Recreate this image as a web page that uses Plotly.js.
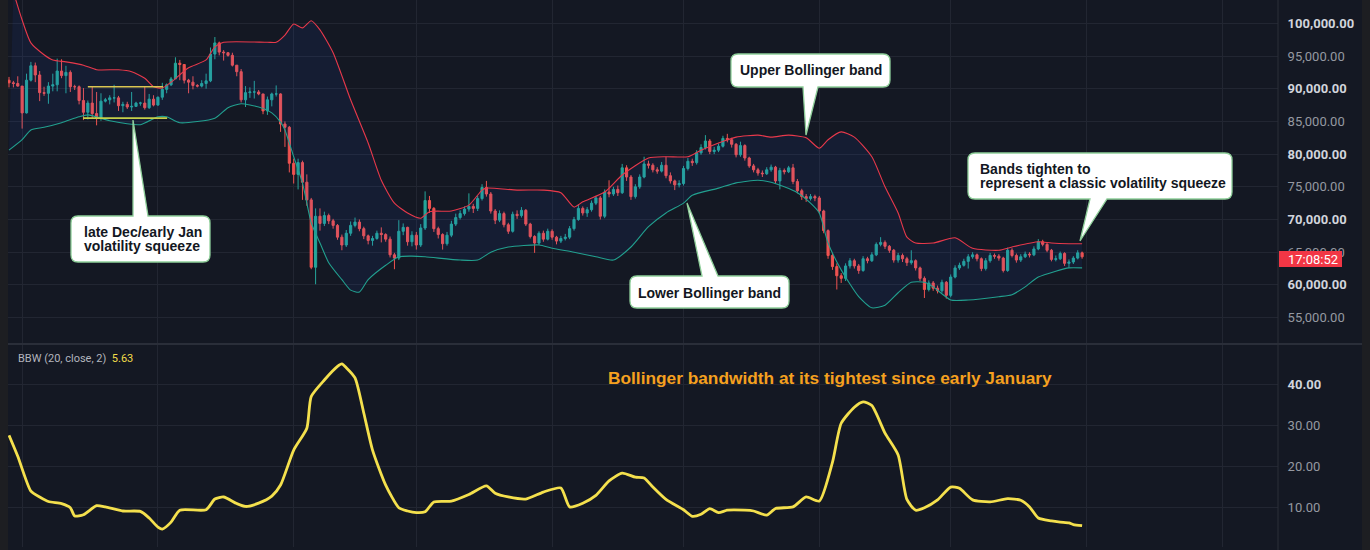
<!DOCTYPE html>
<html>
<head>
<meta charset="utf-8">
<script src="https://cdn.plot.ly/plotly-3.0.1.min.js"></script>
<style>html,body{margin:0;padding:0;background:#141823;overflow:hidden}</style>
</head>
<body>
<div id="chart" style="width:1370px;height:550px"></div>
<script>
// ---------------- DATA ----------------
const startDate = '2025-11-28';   // first daily candle
const firstOpen = 91300;
const closes = [
90900,90800,90400,86300,91300,93500,92100,89400,89300,90400,
90600,92700,92000,92500,90300,90300,88200,86400,87800,86200,
85500,88100,88300,88600,88600,87400,87600,87200,87300,87800,
87800,87100,88400,87500,88700,89900,90600,91500,93900,93700,
91300,91000,90500,90400,90800,91200,95300,97000,95600,95500,
95100,93600,92600,88300,89400,89500,89500,89200,86600,88300,
89200,89200,84600,84100,78600,76900,78700,75700,73000,62700,
70500,
69400,70600,69800,69100,67300,66100,67900,69100,69600,
68600,67500,66800,67100,67900,67700,67000,64600,64100,68200,
68800,66600,67600,66100,68700,72900,71700,68600,67700,66300,
67600,69300,70300,70900,71600,72000,71700,73200,74900,73900,
71300,69900,70900,69200,68200,70800,70600,71400,69300,67400,
66400,67900,67000,68200,67300,66700,67100,67300,68600,70000,
71700,71000,71500,72500,73300,70500,74200,73900,74600,74100,
77900,76500,73500,75000,76500,78500,78300,77600,77400,78300,
76700,75900,75300,75500,77800,78900,78700,80200,81000,82000,
80400,80600,81200,82400,82200,81500,79900,81300,79400,78200,
77600,77100,77000,77600,78000,75900,77500,77300,77900,75800,
74400,73500,73200,73500,73300,71300,68300,64500,62800,61400,
61000,62900,63700,62900,62200,64000,63700,64600,66200,66500,
65900,65300,63800,64500,64000,63400,63700,62600,61000,59300,
60300,59500,59100,60400,58400,61200,62600,63000,63600,64300,
64600,64000,62500,63700,64500,64400,64100,62200,65300,64500,
63800,64300,64700,64600,65500,66600,66200,65300,63900,64000,
64800,63300,63500,64100,64900,64300];
const highs = [
91800,91200,91900,90400,92300,94100,94000,92700,90300,91000,
92300,94600,94500,93500,92800,90600,90500,90100,88200,90300,
89500,89300,88600,89000,90600,88900,88000,88000,89500,88000,
88000,90300,89200,89000,88800,90900,90800,91800,94800,94400,
93600,91500,91900,90700,91300,92300,96300,97900,97200,95900,
95600,95500,93500,93000,90400,90200,91200,89800,89200,88800,
89400,90500,89300,85000,84300,79300,79300,79000,76900,73300,
71700,
71700,71200,70900,70100,69300,67700,68400,69700,70300,
70000,68900,67700,67500,68300,68800,67900,67400,64900,69900,
69400,68900,68200,68100,69300,74300,73600,71900,68900,67900,
68100,69800,70900,71400,72000,74000,72400,73600,75400,75900,
74200,71600,71400,71200,69500,71200,71400,71900,71600,69500,
67600,68200,68300,68600,68500,67500,67500,67800,69000,70400,
72300,72000,71900,72900,73600,73600,74600,76000,75000,75200,
78500,78300,76800,75400,76900,79600,79000,78600,78000,78800,
79600,77200,76100,76000,78200,79400,79300,80600,81500,82900,
82300,81100,81600,82800,83100,82500,81700,81900,81500,79600,
78500,77900,77500,78000,78400,78200,77900,77800,78200,78500,
76200,74700,73900,73900,73800,73600,71500,68500,64900,63300,
61800,63300,64100,64000,63200,64400,64300,65000,66500,67300,
66800,66100,65500,64900,64800,64300,65300,63900,62800,61300,
60700,60600,59900,60800,60600,61600,63000,63400,64000,64700,
65000,64800,64200,64100,64900,64800,64700,64300,65700,65600,
64800,64700,65100,65000,65900,67000,66900,66400,65500,64500,
65100,65000,63900,64400,65300,65100];
const lows = [
90200,90200,90300,83900,86200,91100,91000,88100,88900,87700,
89600,89600,91600,89300,89500,89800,87600,85200,85300,85500,
84400,85100,87900,87600,87900,86600,86400,86900,86600,87200,
87400,86800,86900,87300,87400,88300,89300,90400,91500,91300,
90800,89300,89900,90200,90200,90000,91000,94500,95100,94300,
94900,93400,91900,87900,87200,88600,88500,89000,86100,86000,
87300,88800,83400,81100,77200,75500,74600,73000,72100,62400,
60100,
68300,69000,69300,68600,66900,65300,65800,67500,68800,
68200,67000,66200,66000,66900,66500,66600,64200,62400,63800,
67600,66000,65900,65400,65800,68400,71000,68100,67100,65400,
66000,67300,69000,70000,70600,71200,71000,71300,72900,73500,
70900,69300,69600,68800,67800,68000,70100,70300,69000,67100,
64900,66100,66600,66800,66900,66200,66400,66800,67000,68300,
69800,70600,70400,71200,72200,70000,70200,73400,73600,73600,
73900,75900,73000,73200,74700,76300,77800,77200,77000,77200,
76300,75500,74500,74900,75200,77500,78200,78400,79900,80700,
80000,80000,80300,81000,81800,81000,79500,79600,79000,77900,
77200,76700,76500,76800,77300,75500,74600,76900,77100,75400,
74000,73000,72700,72900,72800,70900,67900,64000,62300,59300,
60300,60600,62500,62500,61700,62000,63300,63500,64400,65900,
65500,64900,63400,63400,63500,62900,63100,62200,60600,58000,
59000,59100,58700,58800,57900,58100,61000,62300,62800,62500,
64000,63600,62100,62200,63400,64000,63700,61900,62000,64200,
63400,63500,64100,64200,64400,65300,65900,65000,63600,63600,
63800,62900,62600,63200,63900,64000];

// Bollinger bands (day offset from startDate, price)
const upperDay = [1,3,5,8,10,13,17,20,25,28,31,33,35,37,41,45,47,49,59,61,63,65,67,69,71,74,78,82,85,88,91,94,96,101,105,108,109,116,122,126,129,131,136,140,146,150,155,158,162,166,171,174,178,182,185,187,190,193,197,200,203,205,207,211,216,220,226,229,235,238,242,245];
const upperVal = [104800,100500,97000,95200,94400,94100,93600,92900,92900,92600,91600,90300,90100,91000,93200,94400,96400,97100,97100,97100,98200,99900,99300,100400,99000,95500,88300,81700,76000,72500,71000,70200,71200,71300,72200,74500,74800,74500,74500,74100,71900,72700,74200,76800,79400,79600,79600,80600,81700,82600,82900,82600,82900,82500,80900,82200,83400,82600,79600,75000,71000,67300,66400,66400,67200,65600,65300,65800,66600,66400,66300,66300];
const lowerDay = [0,3,5,8,12,16,18,23,30,34,36,39,47,50,53,57,60,62,63,65,67,69,71,73,76,78,80,82,86,89,92,95,103,107,110,114,121,124,129,134,138,142,146,150,154,156,162,166,171,174,177,180,183,185,187,190,194,197,200,203,206,209,211,215,219,226,229,232,235,239,242,245];
const lowerVal = [80600,82200,83700,84100,84800,85700,86000,85100,84500,85700,85700,84800,85500,87100,87700,87200,86300,84900,83700,79600,75600,69500,66400,63400,60800,59200,58900,60800,63000,64300,64400,64300,63800,63800,65000,65800,66100,65600,65000,64300,63800,65800,68900,71000,72500,73700,74800,75600,76000,75700,75000,74100,72500,71000,66400,62300,58200,56500,56900,58800,60400,60400,59700,57700,57700,58200,58500,59700,61200,62100,62600,62600];

// Bollinger BandWidth (20, close, 2)
const bbwDay = [0,2,5,7,9,12,14,15,17,20,22,26,30,32,34,35,37,39,45,47,49,52,54,57,60,62,65,68,69,72,75,76,77,79,81,83,86,89,91,93,95,97,101,105,109,111,114,118,122,126,128,131,134,137,140,143,145,147,150,154,156,158,160,162,164,168,170,173,175,179,182,185,188,190,193,195,197,200,203,205,207,209,212,215,217,220,224,228,231,233,235,238,240,242,243,245];
const bbwVal = [27.6,22.5,14.0,12.6,11.5,11.0,10.0,8.0,8.3,10.5,10.2,9.2,9.1,7.5,5.3,4.8,6.5,9.4,9.5,12.1,12.6,11.0,10.3,11.1,12.8,15.5,24.0,29.3,37.0,41.0,44.3,44.9,44.0,41.5,33.0,24.0,15.5,10.0,9.2,8.8,9.0,11.4,11.6,13.2,15.3,13.5,12.6,12.1,13.8,14.8,10.2,11.1,13.0,16.5,18.4,17.4,17.2,15.0,12.0,9.5,7.9,8.4,9.8,8.8,9.4,9.4,9.2,8.2,9.8,10.2,12.6,11.6,21.0,30.5,34.4,35.7,34.8,28.1,22.8,12.0,9.4,10.0,11.9,15.0,14.7,11.9,11.4,12.2,11.8,10.2,7.5,6.8,6.5,6.3,5.9,5.63];
const bbwLast = 5.63;

// squeeze range lines (late Dec / early Jan)
const squeezeTop = 90300, squeezeBottom = 85500;
const squeezeTopDays = [18.0, 35.2], squeezeBottomDays = [16.9, 36.1];

// axis ticks
const priceTicks = [55000,60000,65000,70000,75000,80000,85000,90000,95000,100000];
const bbwTicks = [10,20,30,40];
const countdown = '17:08:52';

// ---------------- HELPERS ----------------
const DAY = 86400000;
const t0 = Date.parse(startDate + 'T00:00:00Z');
const dayDate = d => new Date(t0 + d * DAY).toISOString().slice(0, 19).replace('T', ' ');
const dates = closes.map((_, i) => dayDate(i));
const opens = closes.map((c, i) => i === 0 ? firstOpen : closes[i - 1]);

const W = 1370, H = 550, ML = 8, MR = 92, MT = 0, MB = 3;
const PW = W - ML - MR, PH = H - MT - MB;
const xp = px => (px - ML) / PW;
const yp = py => (PH - (py - MT)) / PH;
const pxPerDay = 4.38, day0Px = 9;

const fmt = v => v.toLocaleString('en-US', {minimumFractionDigits: 2, maximumFractionDigits: 2});
const BRIGHT = '#d1d4dc', DIM = '#9598a1';
const priceText = priceTicks.map(v => (v / 10000) % 1 === 0
  ? `<b><span style="color:${BRIGHT}">${fmt(v)}</span></b>`
  : `<span style="color:${DIM}">${fmt(v)}</span>`);
const bbwText = bbwTicks.map(v => v === 40
  ? `<b><span style="color:${BRIGHT}">${v.toFixed(2)}</span></b>`
  : `<span style="color:${DIM}">${v.toFixed(2)}</span>`);

// callout path (pixel coords -> paper coords)
function P(x, y) { return xp(x).toFixed(5) + ',' + yp(y).toFixed(5); }
function callout(x0, y0, x1, y1, r, tail) {
  let d = 'M' + P(x0 + r, y0);
  if (tail.side === 'top') d += ' L' + P(tail.a, y0) + ' L' + P(tail.tx, tail.ty) + ' L' + P(tail.b, y0);
  d += ' L' + P(x1 - r, y0) + ' Q' + P(x1, y0) + ' ' + P(x1, y0 + r);
  d += ' L' + P(x1, y1 - r) + ' Q' + P(x1, y1) + ' ' + P(x1 - r, y1);
  if (tail.side === 'bottom') d += ' L' + P(tail.b, y1) + ' L' + P(tail.tx, tail.ty) + ' L' + P(tail.a, y1);
  d += ' L' + P(x0 + r, y1) + ' Q' + P(x0, y1) + ' ' + P(x0, y1 - r);
  d += ' L' + P(x0, y0 + r) + ' Q' + P(x0, y0) + ' ' + P(x0 + r, y0) + ' Z';
  return {type: 'path', xref: 'paper', yref: 'paper', path: d, fillcolor: '#ffffff',
          line: {color: '#8fcf9a', width: 1.3}, layer: 'above'};
}
const BOXFONT = {family: 'Liberation Sans, Arial, sans-serif', size: 14, color: '#131722'};
function label(text, px, py, anchor) {
  return {xref: 'paper', yref: 'paper', x: xp(px), y: yp(py), xanchor: anchor || 'left', yanchor: 'middle',
          text: '<b>' + text + '</b>', showarrow: false, font: BOXFONT};
}

// ---------------- TRACES ----------------
const traces = [
  {type: 'scatter', mode: 'lines', x: lowerDay.map(dayDate), y: lowerVal, xaxis: 'x', yaxis: 'y',
   line: {color: '#22a08f', width: 1.1, shape: 'spline', smoothing: 0.6}, hoverinfo: 'skip'},
  {type: 'scatter', mode: 'lines', x: upperDay.map(dayDate), y: upperVal, xaxis: 'x', yaxis: 'y',
   fill: 'tonexty', fillcolor: 'rgba(41,98,255,0.075)',
   line: {color: '#e8394b', width: 1.1, shape: 'spline', smoothing: 0.6}, hoverinfo: 'skip'},
  {type: 'candlestick', x: dates, open: opens, high: highs, low: lows, close: closes, xaxis: 'x', yaxis: 'y',
   increasing: {line: {color: '#26a69a', width: 1}, fillcolor: '#26a69a'},
   decreasing: {line: {color: '#ef5350', width: 1}, fillcolor: '#ef5350'},
   whiskerwidth: 0, hoverinfo: 'skip'},
  {type: 'scatter', mode: 'lines', x: bbwDay.map(dayDate), y: bbwVal, xaxis: 'x', yaxis: 'y2',
   line: {color: '#f4e04d', width: 2.8, shape: 'spline', smoothing: 0.6}, hoverinfo: 'skip'}
];

// ---------------- LAYOUT ----------------
const GRID = '#222632';
const sepY = 344;
const layout = {
  width: W, height: H,
  margin: {l: ML, r: MR, t: MT, b: MB},
  paper_bgcolor: '#141823', plot_bgcolor: '#141823',
  showlegend: false, hovermode: false,
  font: {family: 'Roboto, sans-serif', color: DIM},
  xaxis: {type: 'date', anchor: 'y2', range: [dayDate((ML - day0Px) / pxPerDay), dayDate((ML + PW - day0Px) / pxPerDay)],
          tick0: '2025-12-01', dtick: 'M1', showticklabels: false, ticks: '',
          showgrid: true, gridcolor: GRID, gridwidth: 1, zeroline: false, showline: false,
          rangeslider: {visible: false}, fixedrange: true},
  yaxis: {domain: [yp(sepY - 1), 1], range: [51118, 103563], side: 'right',
          tickmode: 'array', tickvals: priceTicks, ticktext: priceText,
          tickfont: {family: 'Roboto, sans-serif', size: 13},
          ticks: 'outside', ticklen: 6, tickcolor: 'rgba(0,0,0,0)',
          showgrid: true, gridcolor: GRID, zeroline: false, showline: false, fixedrange: true},
  yaxis2: {domain: [0, yp(sepY + 1)], range: [0.46, 49.5], side: 'right', anchor: 'x',
          tickmode: 'array', tickvals: bbwTicks, ticktext: bbwText,
          tickfont: {family: 'Roboto, sans-serif', size: 13},
          ticks: 'outside', ticklen: 6, tickcolor: 'rgba(0,0,0,0)',
          showgrid: true, gridcolor: GRID, zeroline: false, showline: false, fixedrange: true},
  shapes: [
    // squeeze range lines
    {type: 'line', xref: 'x', yref: 'y', x0: dayDate(squeezeTopDays[0]), x1: dayDate(squeezeTopDays[1]),
     y0: squeezeTop, y1: squeezeTop, line: {color: '#d9c552', width: 1.6}},
    {type: 'line', xref: 'x', yref: 'y', x0: dayDate(squeezeBottomDays[0]), x1: dayDate(squeezeBottomDays[1]),
     y0: squeezeBottom, y1: squeezeBottom, line: {color: '#c6cf4a', width: 1.6}},
    // frame / separators
    {type: 'line', xref: 'paper', yref: 'paper', x0: 0, x1: xp(1362), y0: yp(sepY), y1: yp(sepY),
     line: {color: '#2a2e39', width: 2}, layer: 'above'},
    {type: 'line', xref: 'paper', yref: 'paper', x0: 1, x1: 1, y0: yp(550), y1: 1,
     line: {color: '#2a2e39', width: 1}, layer: 'above'},
    {type: 'rect', xref: 'paper', yref: 'paper', x0: xp(0), x1: xp(8), y0: yp(552), y1: yp(-2),
     fillcolor: '#1d1e22', line: {width: 0}, layer: 'above'},
    {type: 'rect', xref: 'paper', yref: 'paper', x0: xp(1362), x1: xp(1372), y0: yp(552), y1: yp(-2),
     fillcolor: '#1d1e22', line: {width: 0}, layer: 'above'},
    // countdown badge
    {type: 'rect', xref: 'paper', yref: 'paper', x0: xp(1279), x1: xp(1342), y0: yp(267), y1: yp(251),
     fillcolor: '#f23645', line: {width: 0}, layer: 'above'},
    // callouts
    callout(71, 216, 210, 262, 7, {side: 'top', a: 133, b: 148, tx: 133, ty: 120}),
    callout(731, 54, 890, 87, 7, {side: 'bottom', a: 803, b: 818, tx: 806, ty: 135}),
    callout(630, 276, 789, 308, 7, {side: 'top', a: 702, b: 718, tx: 687, ty: 203}),
    callout(968, 153, 1232, 199, 7, {side: 'bottom', a: 1090, b: 1107, tx: 1080, ty: 241})
  ],
  annotations: [
    label('late Dec/early Jan', 82, 232),
    label('volatility squeeze', 82, 246),
    label('Upper Bollinger band', 810.5, 70.5, 'center'),
    label('Lower Bollinger band', 709.5, 292.5, 'center'),
    label('Bands tighten to', 978, 169),
    label('represent a classic volatility squeeze', 978, 183),
    {xref: 'paper', yref: 'paper', x: xp(829.5), y: yp(378), xanchor: 'center', yanchor: 'middle', showarrow: false,
     text: '<b>Bollinger bandwidth at its tightest since early January</b>',
     font: {family: 'Liberation Sans, Arial, sans-serif', size: 17.3, color: '#f5a01f'}},
    {xref: 'paper', yref: 'paper', x: xp(16), y: yp(358), xanchor: 'left', yanchor: 'middle', showarrow: false,
     text: 'BBW (20, close, 2)&nbsp;&nbsp;<span style="color:#f2dc4a">' + bbwLast.toFixed(2) + '</span>',
     font: {family: 'Roboto, sans-serif', size: 11, color: '#b2b5be'}},
    {xref: 'paper', yref: 'paper', x: xp(1286), y: yp(259), xanchor: 'left', yanchor: 'middle', showarrow: false,
     text: countdown, font: {family: 'Roboto, sans-serif', size: 13, color: '#ffffff'}}
  ]
};

Plotly.newPlot('chart', traces, layout, {staticPlot: true, displayModeBar: false});
</script>
</body>
</html>
